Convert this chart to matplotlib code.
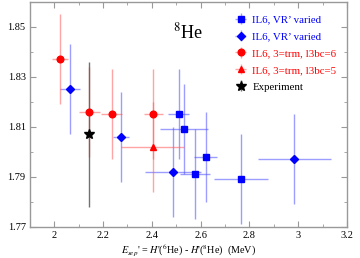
import matplotlib
matplotlib.use("Agg")
import matplotlib.pyplot as plt
from matplotlib.ticker import MultipleLocator, FixedLocator

plt.rcParams['font.family'] = 'serif'
plt.rcParams['font.serif'] = ['Liberation Serif', 'DejaVu Serif']
plt.rcParams['mathtext.fontset'] = 'stix'

# IL6, VR' varied (squares)
sq_x = [2.511, 2.532, 2.620, 2.577, 2.765]
sq_y = [1.815, 1.809, 1.798, 1.791, 1.789]
sq_xerr = [0.043, 0.100, 0.048, 0.061, 0.111]
sq_yerr = [0.018, 0.018, 0.018, 0.018, 0.018]

# IL6, VR' varied (diamonds)
di_x = [2.064, 2.273, 2.486, 2.984]
di_y = [1.825, 1.806, 1.792, 1.797]
di_xerr = [0.041, 0.034, 0.115, 0.150]
di_yerr = [0.018, 0.018, 0.018, 0.018]

# IL6, 3=trm, l3bc=6 (circles)
ci_x = [2.023, 2.143, 2.235, 2.406]
ci_y = [1.837, 1.816, 1.815, 1.815]
ci_xerr = [0.034, 0.043, 0.042, 0.040]
ci_yerr = [0.018, 0.018, 0.018, 0.018]

# IL6, 3=trm, l3bc=5 (triangle)
tr_x = [2.403]
tr_y = [1.802]
tr_xerr = [0.130]
tr_yerr = [0.018]

# Experiment
ex_x = [2.141]
ex_y = [1.807]
ex_yerr = [0.029]

labels = ["IL6, VR\u2019 varied", "IL6, VR\u2019 varied",
          "IL6, 3=trm, l3bc=6", "IL6, 3=trm, l3bc=5", "Experiment"]

fig = plt.figure(figsize=(3.6, 2.58), dpi=100)
ax = fig.add_axes([0.083, 0.121, 0.881, 0.872])

blue = '#0000ff'
red = '#ff0000'
blue_e = (0.3, 0.3, 1.0, 0.55)
red_e = (1.0, 0.35, 0.35, 0.55)

ax.errorbar(sq_x, sq_y, xerr=sq_xerr, yerr=sq_yerr, fmt='s', color=blue,
            ms=4.2, ecolor=blue_e, elinewidth=1, capsize=0, label=labels[0])
ax.errorbar(di_x, di_y, xerr=di_xerr, yerr=di_yerr, fmt='D', color=blue,
            ms=4.0, ecolor=blue_e, elinewidth=1, capsize=0, label=labels[1])
ax.errorbar(ci_x, ci_y, xerr=ci_xerr, yerr=ci_yerr, fmt='o', color=red,
            ms=4.8, ecolor=red_e, elinewidth=1, capsize=0, label=labels[2])
ax.errorbar(tr_x, tr_y, xerr=tr_xerr, yerr=tr_yerr, fmt='^', color=red,
            ms=4.2, ecolor=red_e, elinewidth=1, capsize=0, label=labels[3])
ax.errorbar(ex_x, ex_y, yerr=ex_yerr, fmt='*', color='black',
            ms=7, ecolor=(0.35, 0.35, 0.35, 0.85), elinewidth=1, capsize=0, label=labels[4])

ax.set_xlim(1.9, 3.2)
ax.set_ylim(1.77, 1.86)
ax.xaxis.set_major_locator(FixedLocator([2.0, 2.2, 2.4, 2.6, 2.8, 3.0, 3.2]))
ax.xaxis.set_minor_locator(MultipleLocator(0.1))
ax.yaxis.set_major_locator(FixedLocator([1.77, 1.79, 1.81, 1.83, 1.85]))
ax.yaxis.set_minor_locator(MultipleLocator(0.01))
ax.set_xticklabels(['2', '2.2', '2.4', '2.6', '2.8', '3', '3.2'])
ax.set_yticklabels(['1.77', '1.79', '1.81', '1.83', '1.85'])

spine_c = '#999999'
for s in ax.spines.values():
    s.set_color(spine_c)
    s.set_linewidth(1.0)
ax.tick_params(which='both', direction='in', top=True, right=True,
               color=spine_c, labelsize=7.5, pad=3)
ax.tick_params(which='major', length=4)
ax.tick_params(which='minor', length=2.5)

ax.set_xlabel(r"$E_{sep}$' = $H$'($^{6}$He) - $H$'($^{8}$He)  (MeV)",
              fontsize=7.3, labelpad=2)

ax.text(2.487, 1.8455, r"$^{8}$He", fontsize=13, ha='left', va='baseline')

leg = ax.legend(loc='upper right', frameon=False, fontsize=7.8,
                handlelength=0.9, handletextpad=0.6, labelspacing=0.66,
                borderaxespad=0.3, bbox_to_anchor=(0.99, 0.975))
for txt, c in zip(leg.get_texts(), [blue, blue, red, red, 'black']):
    txt.set_color(c)

fig.savefig('out.png', dpi=100)
